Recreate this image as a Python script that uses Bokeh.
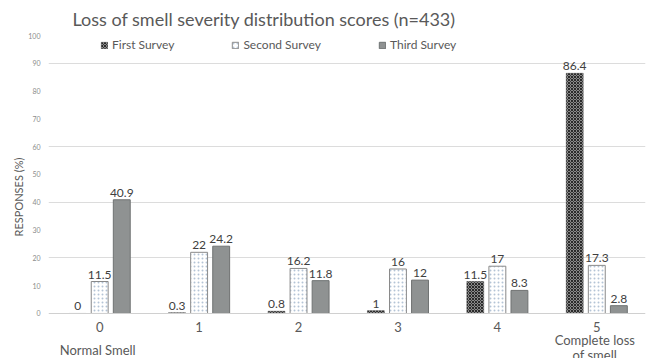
from bokeh.plotting import figure
from bokeh.models import ColumnDataSource, FixedTicker, Legend, LegendItem
from bokeh.core.properties import value
from bokeh.embed import file_html
from bokeh.resources import INLINE

categories = [0, 1, 2, 3, 4, 5]
tick_labels = ["0", "1", "2", "3", "4", "5"]
first_survey = [0, 0.3, 0.8, 1, 11.5, 86.4]
second_survey = [11.5, 22, 16.2, 16, 17, 17.3]
third_survey = [40.9, 24.2, 11.8, 12, 8.3, 2.8]
series_names = ["First Survey", "Second Survey", "Third Survey"]
end_notes = ["Normal Smell", "Complete loss", "of smell"]
end_note_cat = [0, 5, 5]

FONT = "Lato"
TXT = "#595959"

p = figure(width=649, height=358, output_backend="svg", toolbar_location=None,
           x_range=(-0.515, 5.49), y_range=(-16.2, 100),
           min_border_left=48, min_border_right=4, min_border_top=34, min_border_bottom=0)
p.outline_line_color = None
p.background_fill_color = "white"

p.title.text = "Loss of smell severity distribution scores (n=433)"
p.title.text_font = FONT
p.title.text_font_size = "18px"
p.title.text_font_style = "normal"
p.title.text_color = TXT
p.title.align = "left"
p.title.offset = 24
p.title.standoff = 11

off = 0.222
w = 0.17
x1 = [c - off for c in categories]
x3 = [c + off for c in categories]

src1 = ColumnDataSource(dict(x=x1, top=first_survey, lab=[str(v) for v in first_survey]))
src2 = ColumnDataSource(dict(x=categories, top=second_survey, lab=[str(v) for v in second_survey]))
src3 = ColumnDataSource(dict(x=x3, top=third_survey, lab=[str(v) for v in third_survey]))

r1 = p.vbar(x="x", top="top", width=w, source=src1, fill_color="#8a8a8a",
            hatch_pattern="diagonal_cross", hatch_color="#2a2a2a", hatch_scale=3,
            hatch_weight=1, line_color="#555555", line_width=0.5)
r2 = p.vbar(x="x", top="top", width=w, source=src2, fill_color="white",
            hatch_pattern="dot", hatch_color="#b4c4d6", hatch_scale=4,
            line_color="#8a8a8a", line_width=1)
r3 = p.vbar(x="x", top="top", width=w, source=src3, fill_color="#8f9292",
            line_color="#6f7272", line_width=1)

for s in (src1, src2, src3):
    p.text(x="x", y="top", text="lab", source=s, text_align="center",
           text_baseline="bottom", y_offset=-3, text_font=value(FONT),
           text_font_size="12px", text_color="#404040")

note_src = ColumnDataSource(dict(x=end_note_cat, y=[-13.3, -9.7, -14.8], t=end_notes))
p.text(x="x", y="y", text="t", source=note_src, text_align="center",
       text_baseline="middle", text_font=value(FONT), text_font_size="13px",
       text_color=TXT, x_offset=-2)

legend = Legend(items=[LegendItem(label=series_names[0], renderers=[r1]),
                       LegendItem(label=series_names[1], renderers=[r2]),
                       LegendItem(label=series_names[2], renderers=[r3])],
                orientation="horizontal", location=(52, 306))
legend.label_text_font = FONT
legend.label_text_font_size = "12px"
legend.label_text_color = TXT
legend.glyph_width = 8
legend.glyph_height = 8
legend.label_standoff = 4
legend.spacing = 57
legend.background_fill_alpha = 0
legend.border_line_color = None
legend.padding = 0
legend.margin = 0
p.add_layout(legend, "center")

p.xaxis.fixed_location = 0
p.xaxis.ticker = FixedTicker(ticks=categories)
p.xaxis.major_label_overrides = {c: t for c, t in zip(categories, tick_labels)}
p.xaxis.major_tick_line_color = None
p.xaxis.minor_tick_line_color = None
p.xaxis.major_tick_out = 0
p.xaxis.major_tick_in = 0
p.xaxis.axis_line_color = "#d0d0d0"
p.xaxis.major_label_text_font = FONT
p.xaxis.major_label_text_font_size = "13px"
p.xaxis.major_label_text_color = TXT
p.xaxis.major_label_standoff = 9
p.xgrid.grid_line_color = None

p.yaxis.ticker = FixedTicker(ticks=list(range(0, 101, 10)))
p.yaxis.axis_line_color = None
p.yaxis.major_tick_line_color = None
p.yaxis.minor_tick_line_color = None
p.yaxis.major_tick_out = 0
p.yaxis.major_tick_in = 0
p.yaxis.major_label_text_font = FONT
p.yaxis.major_label_text_font_size = "7px"
p.yaxis.major_label_text_color = "#8c8c8c"
p.yaxis.major_label_standoff = 8
p.yaxis.axis_label = "RESPONSES (%)"
p.yaxis.axis_label_text_font = FONT
p.yaxis.axis_label_text_font_size = "11px"
p.yaxis.axis_label_text_font_style = "normal"
p.yaxis.axis_label_text_color = TXT
p.yaxis.axis_label_standoff = 0
p.ygrid.ticker = FixedTicker(ticks=[20, 40, 60, 90])
p.ygrid.grid_line_color = "#dcdcdc"

open("out.html", "w").write(file_html(p, INLINE))
